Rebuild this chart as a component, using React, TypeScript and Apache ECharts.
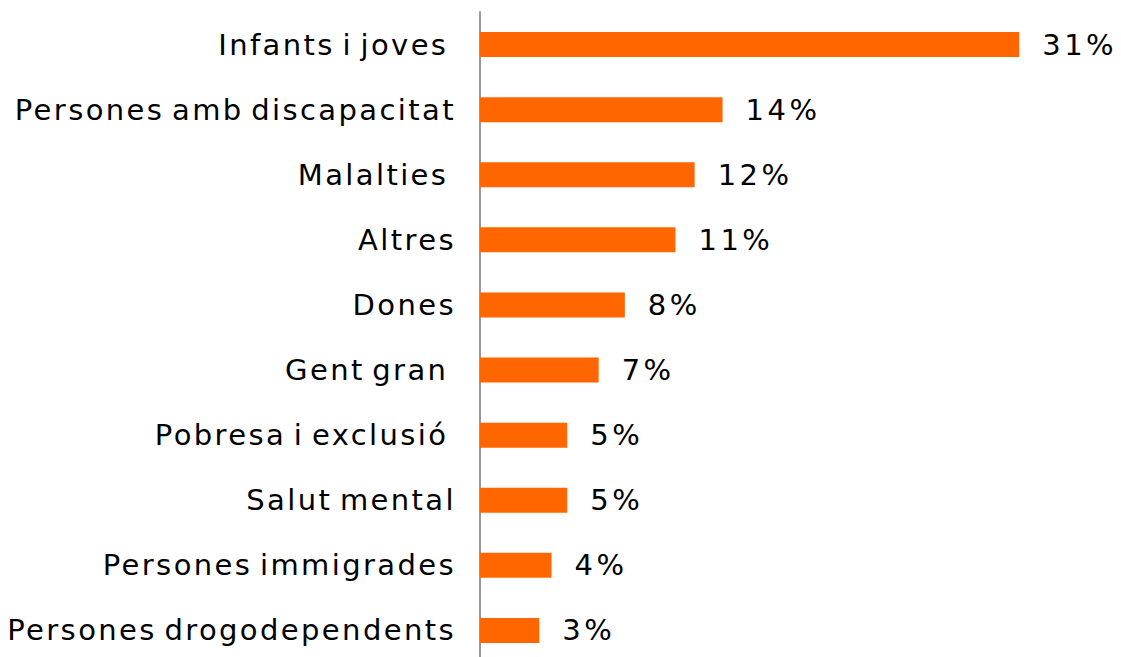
import React, { useEffect, useRef } from "react";
import * as echarts from "echarts";

const categories = [
  "Infants i joves ",
  "Persones amb discapacitat",
  "Malalties ",
  "Altres",
  "Dones",
  "Gent gran ",
  "Pobresa i exclusió ",
  "Salut mental",
  "Persones immigrades",
  "Persones drogodependents",
];
const values = [30.9, 13.9, 12.3, 11.2, 8.3, 6.8, 5.0, 5.0, 4.1, 3.4];

export default function App() {
  const ref = useRef<HTMLDivElement>(null);
  useEffect(() => {
    const chart = echarts.init(ref.current!, null, { renderer: "svg" });
    const trimmed = categories.map((c) => c.trim());
    const spread = () => {
      ref.current?.querySelectorAll("text").forEach((t) => {
        const s = (t.textContent || "").trim();
        if (trimmed.includes(s)) {
          t.setAttribute("letter-spacing", "2.4");
          t.setAttribute("word-spacing", "-4");
          t.setAttribute("xml:space", "preserve");
          (t as any).style.whiteSpace = "pre";
        } else {
          t.setAttribute("letter-spacing", "3.5");
        }
      });
    };
    chart.on("rendered", spread);
    chart.setOption({
      animation: false,
      grid: { left: 480, top: 12, width: 558.4, height: 651, containLabel: false, outerBoundsMode: "none" },
      xAxis: {
        type: "value",
        min: 0,
        max: 32,
        show: false,
      },
      yAxis: {
        type: "category",
        inverse: true,
        data: categories,
        axisLine: { show: true, lineStyle: { color: "#999999", width: 2 } },
        axisTick: { show: false },
        axisLabel: {
          margin: 24,
          color: "#000",
          fontFamily: "DejaVu Sans",
          fontSize: 29,
        },
      },
      series: [
        {
          type: "bar",
          data: values,
          barWidth: 25,
          itemStyle: { color: "#FF6600" },
          label: {
            show: true,
            position: "right",
            distance: 23,
            color: "#000",
            fontFamily: "DejaVu Sans",
            fontSize: 29,
            formatter: (p: any) => Math.round(p.value) + "%",
          },
        },
      ],
    });
    spread();
    return () => chart.dispose();
  }, []);
  return (
    <div
      ref={ref}
      style={{ position: "absolute", left: 0, top: 0, width: 1121, height: 657 }}
    />
  );
}
